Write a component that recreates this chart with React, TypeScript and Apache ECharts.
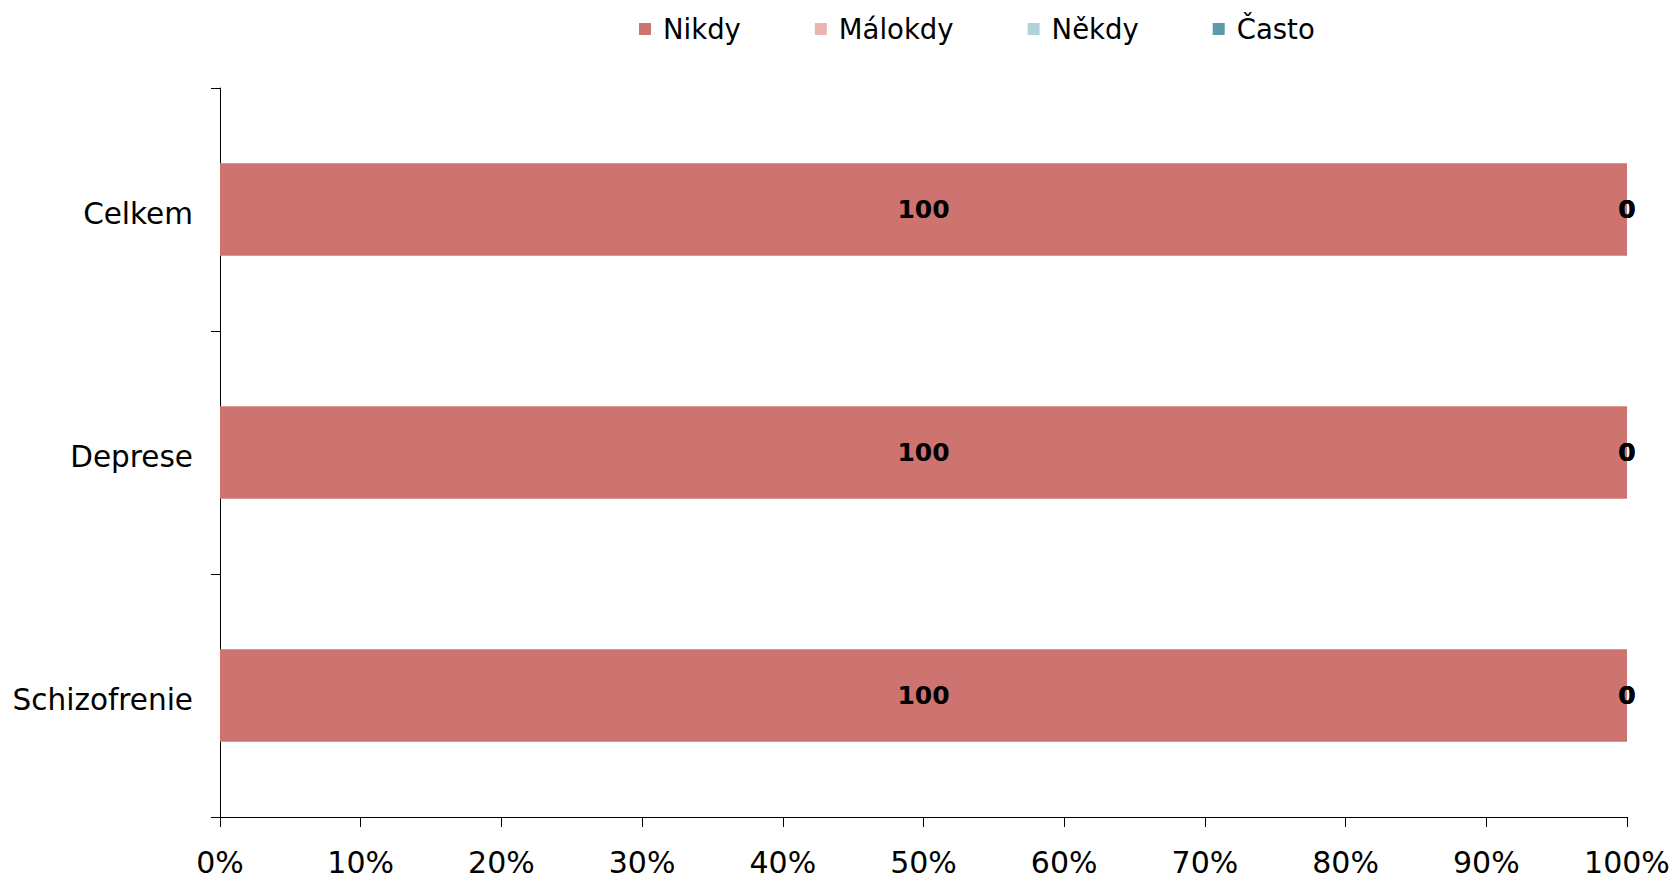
import React, { useEffect, useRef } from "react";
import * as echarts from "echarts";

const categories = ["Celkem", "Deprese", "Schizofrenie"];
const seriesNames = ["Nikdy", "Málokdy", "Někdy", "Často"];
const nikdy = [100, 100, 100];
const malokdy = [0, 0, 0];
const nekdy = [0, 0, 0];
const casto = [0, 0, 0];
const colors = ["#CD7370", "#E8B6B0", "#B0D2D8", "#5F9AA8"];
const xTicks = [0, 10, 20, 30, 40, 50, 60, 70, 80, 90, 100];

const FONT = "DejaVu Sans";

export default function App() {
  const ref = useRef<HTMLDivElement>(null);
  useEffect(() => {
    if (!ref.current) return;
    const chart = echarts.init(ref.current, null, { renderer: "svg" });
    const values = [nikdy, malokdy, nekdy, casto];
    chart.setOption({
      animation: false,
      textStyle: { fontFamily: FONT },
      legend: {
        top: 10,
        left: 634,
        itemWidth: 12,
        itemHeight: 12,
        itemGap: 74,
        icon: "rect",
        textStyle: {
          fontFamily: FONT,
          fontSize: 27.5,
          color: "#000",
          padding: [0, 0, 0, 7],
        },
        data: seriesNames,
      },
      grid: { left: 220, right: 53, top: 88, bottom: 62 },
      xAxis: {
        type: "value",
        min: xTicks[0],
        max: xTicks[xTicks.length - 1],
        interval: 10,
        axisLine: { show: true, lineStyle: { color: "#000", width: 1 } },
        axisTick: { show: true, length: 10, lineStyle: { color: "#000" } },
        splitLine: { show: false },
        axisLabel: {
          formatter: "{value}%",
          fontFamily: FONT,
          fontSize: 30,
          color: "#000",
          margin: 30,
        },
      },
      yAxis: {
        type: "category",
        data: categories,
        inverse: true,
        axisLine: { show: true, lineStyle: { color: "#000", width: 1 } },
        axisTick: { show: true, length: 9, lineStyle: { color: "#000" } },
        axisLabel: {
          color: "#000",
          margin: 27,
          formatter: (v: string) => "{a|" + v + "}",
          rich: {
            a: {
              fontFamily: FONT,
              fontSize: 29.5,
              color: "#000",
              padding: [9, 0, 0, 0],
            },
          },
        },
      },
      series: seriesNames.map((name, i) => ({
        name,
        type: "bar",
        stack: "total",
        data: values[i],
        barWidth: "38%",
        itemStyle: { color: colors[i] },
        label: {
          show: true,
          position: "inside",
          formatter: "{c}",
          fontFamily: FONT,
          fontWeight: "bold",
          fontSize: 25,
          color: "#000",
        },
      })),
    });
    return () => chart.dispose();
  }, []);
  return (
    <div
      ref={ref}
      style={{ position: "absolute", left: 0, top: 0, width: 1680, height: 879 }}
    />
  );
}
